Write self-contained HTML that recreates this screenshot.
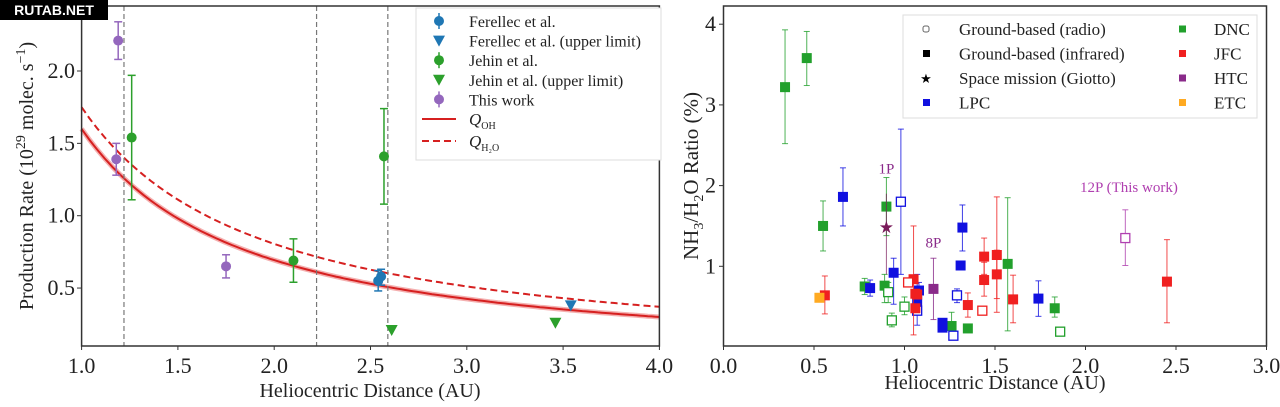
<!DOCTYPE html>
<html><head><meta charset="utf-8"><style>
html,body{margin:0;padding:0;background:#fff;width:1280px;height:407px;overflow:hidden}
svg{display:block;font-family:"Liberation Serif",serif}
</style></head><body>
<svg id="s" width="1280" height="407" xmlns="http://www.w3.org/2000/svg">
<rect width="1280" height="407" fill="#fff"/>
<g id="L"></g><g id="R"></g>
<rect x="0" y="0" width="108" height="20" fill="#000"/>
<text x="54" y="15" fill="#fff" font-family="Liberation Sans,sans-serif" font-weight="bold" font-size="14" text-anchor="middle">RUTAB.NET</text>
</svg>
<script>
const NS="http://www.w3.org/2000/svg";
function el(p,t,a,txt){const e=document.createElementNS(NS,t);for(const k in a)e.setAttribute(k,a[k]);if(txt!=null)e.textContent=txt;p.appendChild(e);return e;}
const L=document.getElementById('L');
const lx=x=>81.6+(x-1)*192.6, ly=y=>71+(2-y)*144.7;
let p1="",p2="";
for(let r=1;r<=4.001;r+=0.02){p1+=(p1?"L":"M")+lx(r).toFixed(1)+","+ly(1.6*Math.pow(r,-1.207)).toFixed(1);p2+=(p2?"L":"M")+lx(r).toFixed(1)+","+ly(1.75*Math.pow(r,-1.12)).toFixed(1);}
el(L,'path',{d:p1,stroke:'#f4b0b0',"stroke-width":5,fill:'none'});
el(L,'path',{d:p1,stroke:'#d62020',"stroke-width":2,fill:'none'});
el(L,'path',{d:p2,stroke:'#d62020',"stroke-width":2,fill:'none',"stroke-dasharray":"7,4"});
[1.22,2.22,2.59].forEach(v=>el(L,'line',{x1:lx(v),x2:lx(v),y1:6,y2:346,stroke:'#777',"stroke-width":1.2,"stroke-dasharray":"5,3"}));
function ebar(g,x,y,lo,hi,c,X,Y){el(g,'line',{x1:X(x),x2:X(x),y1:Y(lo),y2:Y(hi),stroke:c,"stroke-width":1.5});[lo,hi].forEach(v=>el(g,'line',{x1:X(x)-4,x2:X(x)+4,y1:Y(v),y2:Y(v),stroke:c,"stroke-width":1.5}));}
const pur='#9467bd',grn='#2ca02c',blu='#1f77b4';
[[1.19,2.21,2.08,2.34,pur],[1.18,1.39,1.28,1.50,pur],[1.75,0.65,0.57,0.73,pur],[1.26,1.54,1.11,1.97,grn],[2.10,0.69,0.54,0.84,grn],[2.57,1.41,1.08,1.74,grn],[2.54,0.55,0.48,0.62,blu],[2.555,0.58,0.52,0.63,blu]].forEach(d=>{ebar(L,d[0],d[1],d[2],d[3],d[4],lx,ly);el(L,'circle',{cx:lx(d[0]),cy:ly(d[1]),r:5,fill:d[4]});});
function tri(g,x,y,c){el(g,'polygon',{points:`${x-6},${y-5} ${x+6},${y-5} ${x},${y+6}`,fill:c});}
tri(L,lx(2.61),ly(0.21),grn);tri(L,lx(3.46),ly(0.26),grn);tri(L,lx(3.54),ly(0.38),blu);
el(L,'rect',{x:81.6,y:6,width:577.8,height:340,fill:'none',stroke:'#333',"stroke-width":1.5});
[1,1.5,2,2.5,3,3.5,4].forEach(v=>{el(L,'line',{x1:lx(v),x2:lx(v),y1:346,y2:350,stroke:'#333'});el(L,'text',{x:lx(v),y:373,"font-size":22,"text-anchor":"middle",fill:'#222'},v.toFixed(1));});
[0.5,1,1.5,2].forEach(v=>{el(L,'line',{x1:77,x2:81.6,y1:ly(v),y2:ly(v),stroke:'#333'});el(L,'text',{x:75,y:ly(v)+7,"font-size":22,"text-anchor":"end",fill:'#222'},v.toFixed(1));});
el(L,'text',{x:370,y:397,"font-size":20,"text-anchor":"middle",fill:'#222'},"Heliocentric Distance (AU)");
const yl=el(L,'text',{transform:"translate(33,176) rotate(-90)","font-size":20,"text-anchor":"middle",fill:'#222'});
yl.innerHTML='Production Rate (10<tspan dy="-8" font-size="14">29</tspan><tspan dy="8"> molec. s</tspan><tspan dy="-8" font-size="14">−1</tspan><tspan dy="8">)</tspan>';
el(L,'rect',{x:416,y:8,width:245,height:152,fill:'#fff',stroke:'#ddd'});
const leg=[['c',blu,'Ferellec et al.'],['t',blu,'Ferellec et al. (upper limit)'],['c',grn,'Jehin et al.'],['t',grn,'Jehin et al. (upper limit)'],['c',pur,'This work']];
leg.forEach((d,i)=>{const y=21+i*19.6;if(d[0]=='c'){el(L,'line',{x1:439,x2:439,y1:y-8,y2:y+8,stroke:d[1],"stroke-width":1.5});el(L,'circle',{cx:439,cy:y,r:5,fill:d[1]});}else tri(L,439,y,d[1]);el(L,'text',{x:469,y:y+6,"font-size":16,fill:'#222'},d[2]);});
el(L,'line',{x1:422,x2:456,y1:119,y2:119,stroke:'#d62020',"stroke-width":2});
el(L,'line',{x1:422,x2:456,y1:141,y2:141,stroke:'#d62020',"stroke-width":2,"stroke-dasharray":"7,4"});
el(L,'text',{x:469,y:125,"font-size":17,"font-style":"italic",fill:'#222'}).innerHTML='Q<tspan dy="4" font-size="10" font-style="normal">OH</tspan>';
el(L,'text',{x:469,y:147,"font-size":17,"font-style":"italic",fill:'#222'}).innerHTML='Q<tspan dy="4" font-size="10" font-style="normal">H₂O</tspan>';
const R=document.getElementById('R');
const rx=x=>723.5+x*181, ry=y=>347-y*80.7;
const G='#22a02c',B='#1010e0',Rd='#f02020',P='#8a2a8a',O='#ffaa22';
const pts=[
[0.34,3.22,2.52,3.93,G,1],[0.46,3.58,3.24,3.91,G,1],[0.55,1.50,1.19,1.81,G,1],[0.78,0.75,0.65,0.85,G,1],[0.89,0.76,0.55,0.9,G,1],[0.90,1.74,1.38,2.10,G,1],[1.26,0.26,0.1,0.43,G,1],[1.35,0.23,0.23,0.23,G,1],[1.57,1.03,0.2,1.85,G,1],[1.83,0.48,0.37,0.62,G,1],[1.86,0.19,0.19,0.19,G,0],[0.93,0.33,0.25,0.42,G,0],[1.00,0.50,0.4,0.62,G,0],[0.91,0.68,0.55,0.8,G,0],
[0.66,1.86,1.50,2.22,B,1],[0.81,0.73,0.63,0.83,B,1],[0.94,0.92,0.53,1.10,B,1],[0.98,1.80,0.9,2.70,B,0],[1.07,0.57,0.27,0.9,B,1],[1.08,0.70,0.6,0.8,B,1],[1.21,0.30,0.3,0.3,B,1],[1.21,0.24,0.24,0.24,B,1],[1.31,1.01,1.01,1.01,B,1],[1.32,1.48,1.19,1.76,B,1],[1.29,0.64,0.55,0.72,B,0],[1.27,0.14,0.14,0.14,B,0],[1.74,0.60,0.38,0.82,B,1],[1.07,0.45,0.4,0.5,B,0],
[0.56,0.64,0.41,0.88,Rd,1],[1.05,0.84,0.15,1.50,Rd,1],[1.02,0.80,0.8,0.8,Rd,0],[1.06,0.66,0.66,0.66,Rd,1],[1.06,0.48,0.48,0.48,Rd,1],[1.07,0.65,0.65,0.65,Rd,1],[1.35,0.52,0.37,0.67,Rd,1],[1.43,0.45,0.45,0.45,Rd,0],[1.44,1.12,0.9,1.35,Rd,1],[1.44,0.83,0.63,1.05,Rd,1],[1.51,1.14,0.43,1.86,Rd,1],[1.51,0.90,0.6,1.2,Rd,1],[1.60,0.59,0.3,0.89,Rd,1],[2.45,0.81,0.3,1.33,Rd,1],
[1.16,0.72,0.34,1.10,P,1],[2.22,1.35,1.01,1.70,'#b040b0',0],[0.53,0.61,0.61,0.61,O,1]];
pts.forEach(d=>{const X=rx(d[0]),Y=ry(d[1]);if(d[3]>d[2]){el(R,'line',{x1:X,x2:X,y1:ry(d[2]),y2:ry(d[3]),stroke:d[4],"stroke-width":1,opacity:0.8});[d[2],d[3]].forEach(v=>el(R,'line',{x1:X-3,x2:X+3,y1:ry(v),y2:ry(v),stroke:d[4],"stroke-width":1,opacity:0.8}));}
if(d[5])el(R,'rect',{x:X-5,y:Y-5,width:10,height:10,fill:d[4]});else el(R,'rect',{x:X-4.5,y:Y-4.5,width:9,height:9,fill:'#fff',stroke:d[4],"stroke-width":1.3});});
el(R,'text',{x:rx(0.9),y:ry(1.49)+6,"font-size":17,"text-anchor":"middle",fill:'#7a1a5a'},'★');
el(R,'line',{x1:rx(0.9),x2:rx(0.9),y1:ry(0.9),y2:ry(1.9),stroke:'#7a1a5a',"stroke-width":1,opacity:0.7});
el(R,'text',{x:rx(0.9),y:ry(2.15),"font-size":15,"text-anchor":"middle",fill:P},'1P');
el(R,'text',{x:rx(1.16),y:ry(1.23),"font-size":15,"text-anchor":"middle",fill:P},'8P');
el(R,'text',{x:rx(2.24),y:ry(1.92),"font-size":15,"text-anchor":"middle",fill:'#b040b0'},'12P (This work)');
el(R,'rect',{x:723.5,y:6,width:543,height:340,fill:'none',stroke:'#333',"stroke-width":1.5});
[0,0.5,1,1.5,2,2.5,3].forEach(v=>{el(R,'line',{x1:rx(v),x2:rx(v),y1:346,y2:350,stroke:'#333'});el(R,'text',{x:rx(v),y:373,"font-size":22,"text-anchor":"middle",fill:'#222'},v.toFixed(1));});
[1,2,3,4].forEach(v=>{el(R,'line',{x1:719,x2:723.5,y1:ry(v),y2:ry(v),stroke:'#333'});el(R,'text',{x:716,y:ry(v)+7,"font-size":22,"text-anchor":"end",fill:'#222'},v);});
el(R,'text',{x:995,y:389,"font-size":20,"text-anchor":"middle",fill:'#222'},"Heliocentric Distance (AU)");
el(R,'text',{transform:"translate(698,176) rotate(-90)","font-size":21,"text-anchor":"middle",fill:'#222'}).innerHTML='NH<tspan dy="5" font-size="14">3</tspan><tspan dy="-5">/H</tspan><tspan dy="5" font-size="14">2</tspan><tspan dy="-5">O Ratio (%)</tspan>';
el(R,'rect',{x:903,y:15,width:354,height:103,fill:'#fff',stroke:'#ddd'});
const rl=[['o','#666','Ground-based (radio)'],['s','#000','Ground-based (infrared)'],['*','#000','Space mission (Giotto)'],['s',B,'LPC']];
rl.forEach((d,i)=>{const y=29+i*24.5;if(d[0]=='o')el(R,'rect',{x:923,y:y-3,width:6,height:6,rx:2,fill:'#fff',stroke:d[1]});else if(d[0]=='s')el(R,'rect',{x:923,y:y-3.5,width:7,height:7,fill:d[1]});else el(R,'text',{x:926,y:y+5,"font-size":13,"text-anchor":"middle"},'★');el(R,'text',{x:959,y:y+6,"font-size":17,fill:'#222'},d[2]);});
[[G,'DNC'],[Rd,'JFC'],[P,'HTC'],[O,'ETC']].forEach((d,i)=>{const y=29+i*24.5;el(R,'rect',{x:1179,y:y-3.5,width:7,height:7,fill:d[0]});el(R,'text',{x:1214,y:y+6,"font-size":17,fill:'#222'},d[1]);});
</script>
</body></html>
